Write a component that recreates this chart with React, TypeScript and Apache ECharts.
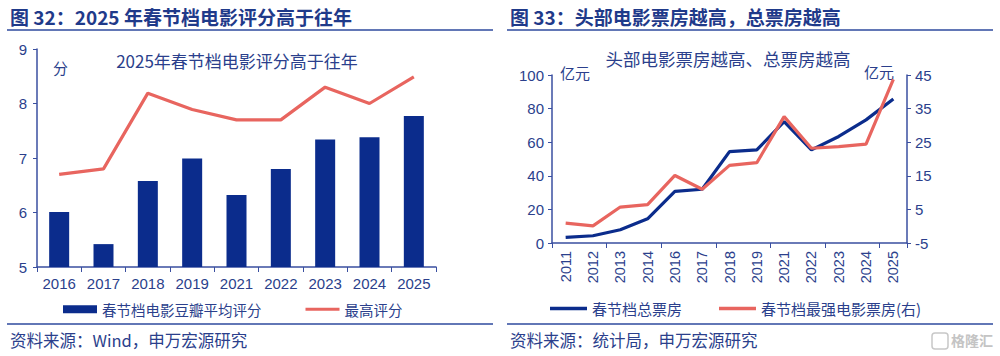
import React, { useEffect, useRef } from "react";
import * as echarts from "echarts";

const yearsL = ["2016", "2017", "2018", "2019", "2021", "2022", "2023", "2024", "2025"];
const avgScore = [6.01, 5.42, 6.58, 6.99, 6.32, 6.8, 7.34, 7.38, 7.77];
const maxScore = [6.7, 6.8, 8.19, 7.89, 7.7, 7.7, 8.3, 8.0, 8.49];

const yearsR = ["2011", "2012", "2013", "2014", "2016", "2017", "2018", "2019", "2021", "2022", "2023", "2024", "2025"];
const totalBox = [3.3, 4.3, 7.9, 14.4, 30.7, 32.0, 54.4, 55.4, 72.3, 55.4, 63.4, 73.3, 85.7];
const topFilmBox = [0.9, 0.1, 5.7, 6.4, 15.1, 11.0, 18.1, 18.9, 32.6, 23.2, 23.7, 24.4, 43.7];

const FONT = 'Arial, "Liberation Sans", "Noto Sans CJK SC", sans-serif';
const CJK = '"Noto Sans CJK SC", sans-serif';
const TXT = "#2B3F8C";
const AXIS = "#3A4FA0";
const NAVY = "#0B2C8C";
const RED = "#E8655F";
const LINE_ICON = "path://M0,0 L36,0 L36,3.2 L0,3.2 Z";

export default function App() {
  const ref = useRef<HTMLDivElement>(null);
  useEffect(() => {
    const chart = echarts.init(ref.current!, undefined, { renderer: "svg" });
    const axisLabel = { color: TXT, fontSize: 15, fontFamily: FONT };
    chart.setOption({
      animation: false,
      backgroundColor: "#fff",
      textStyle: { fontFamily: FONT },
      title: [
        { text: "2025年春节档电影评分高于往年", left: 232, top: 47, textAlign: "center", textStyle: { color: TXT, fontSize: 17, fontWeight: "normal", fontFamily: CJK } },
        { text: "头部电影票房越高、总票房越高", left: 723, top: 45, textAlign: "center", textStyle: { color: TXT, fontSize: 17.5, fontWeight: "normal", fontFamily: CJK } },
      ],
      legend: [
        {
          left: 58, top: 297, itemGap: 44, itemWidth: 34, itemHeight: 8,
          textStyle: { color: TXT, fontSize: 14.5, fontFamily: CJK },
          data: [
            { name: "春节档电影豆瓣平均评分", icon: "rect" },
            { name: "最高评分", icon: LINE_ICON },
          ],
        },
        {
          left: 545, top: 296, itemGap: 37, itemWidth: 37, itemHeight: 8,
          textStyle: { color: TXT, fontSize: 15, fontFamily: CJK },
          data: [
            { name: "春节档总票房", icon: LINE_ICON },
            { name: "春节档最强电影票房(右)", icon: LINE_ICON },
          ],
        },
      ],
      grid: [
        { left: 37, top: 49, width: 399, height: 218 },
        { left: 552, top: 75, width: 355, height: 168 },
      ],
      xAxis: [
        {
          type: "category", gridIndex: 0, data: yearsL, boundaryGap: true,
          axisLine: { lineStyle: { color: AXIS, width: 1.5 } },
          axisTick: { show: true, alignWithLabel: false, length: 5, lineStyle: { color: AXIS } },
          axisLabel: { ...axisLabel, margin: 9 },
        },
        {
          type: "category", gridIndex: 1, data: yearsR, boundaryGap: true,
          axisLine: { lineStyle: { color: AXIS, width: 1.5 } },
          axisTick: { show: true, alignWithLabel: false, interval: 1, length: 5, lineStyle: { color: AXIS } },
          axisLabel: { ...axisLabel, fontSize: 14.5, rotate: 90, margin: 8, interval: 0 },
        },
      ],
      yAxis: [
        {
          type: "value", gridIndex: 0, min: 5, max: 9, interval: 1,
          axisLine: { show: true, lineStyle: { color: AXIS, width: 1.5 } },
          axisTick: { show: true, length: 4, lineStyle: { color: AXIS } },
          splitLine: { show: false },
          axisLabel: { ...axisLabel, margin: 10 },
        },
        {
          type: "value", gridIndex: 1, min: 0, max: 100, interval: 20,
          axisLine: { show: true, lineStyle: { color: AXIS, width: 1.5 } },
          axisTick: { show: true, length: 4, lineStyle: { color: AXIS } },
          splitLine: { show: false },
          axisLabel: { ...axisLabel, margin: 8 },
        },
        {
          type: "value", gridIndex: 1, position: "right", min: -5, max: 45, interval: 10,
          axisLine: { show: true, lineStyle: { color: AXIS, width: 1.5 } },
          axisTick: { show: true, length: 4, lineStyle: { color: AXIS } },
          splitLine: { show: false },
          axisLabel: { ...axisLabel, margin: 8 },
        },
      ],
      series: [
        {
          name: "春节档电影豆瓣平均评分", type: "bar", xAxisIndex: 0, yAxisIndex: 0,
          data: avgScore, barWidth: 20, itemStyle: { color: NAVY },
        },
        {
          name: "最高评分", type: "line", xAxisIndex: 0, yAxisIndex: 0,
          data: maxScore, symbol: "none", lineStyle: { color: RED, width: 3.2 }, itemStyle: { color: RED },
        },
        {
          name: "春节档总票房", type: "line", xAxisIndex: 1, yAxisIndex: 1,
          data: totalBox, symbol: "none", lineStyle: { color: NAVY, width: 3.2 }, itemStyle: { color: NAVY },
        },
        {
          name: "春节档最强电影票房(右)", type: "line", xAxisIndex: 1, yAxisIndex: 2,
          data: topFilmBox, symbol: "none", lineStyle: { color: RED, width: 3.2 }, itemStyle: { color: RED },
        },
      ],
      graphic: [
        { type: "text", left: 10, top: 7, style: { text: "图 32：2025 年春节档电影评分高于往年", fill: "#1F3A8A", font: `bold 19px ${CJK}` } },
        { type: "text", left: 510, top: 7, style: { text: "图 33：头部电影票房越高，总票房越高", fill: "#1F3A8A", font: `bold 19px ${CJK}` } },
        { type: "line", shape: { x1: 7, y1: 30, x2: 493, y2: 30 }, style: { stroke: "#2E4A9E", lineWidth: 1.5 } },
        { type: "line", shape: { x1: 507, y1: 30, x2: 993, y2: 30 }, style: { stroke: "#2E4A9E", lineWidth: 1.5 } },
        { type: "line", shape: { x1: 7, y1: 324, x2: 493, y2: 324 }, style: { stroke: "#2E4A9E", lineWidth: 1.5 } },
        { type: "line", shape: { x1: 507, y1: 324, x2: 993, y2: 324 }, style: { stroke: "#2E4A9E", lineWidth: 1.5 } },
        { type: "text", left: 10, top: 332, style: { text: "资料来源：Wind，申万宏源研究", fill: TXT, font: `16.5px ${CJK}` } },
        { type: "text", left: 510, top: 332, style: { text: "资料来源：统计局，申万宏源研究", fill: TXT, font: `16.5px ${CJK}` } },
        { type: "text", left: 53, top: 60, style: { text: "分", fill: TXT, font: `15px ${CJK}` } },
        { type: "text", left: 560, top: 65, style: { text: "亿元", fill: TXT, font: `15px ${CJK}` } },
        { type: "text", left: 864, top: 64, style: { text: "亿元", fill: TXT, font: `15px ${CJK}` } },
        { type: "rect", shape: { x: 932, y: 333, width: 16, height: 16, r: 3 }, style: { fill: "none", stroke: "#c8c8c8", lineWidth: 1.5 } },
        { type: "text", left: 951, top: 333, style: { text: "格隆汇", fill: "#c4c4c4", font: `bold 14px ${CJK}` } },
      ],
    });
    return () => chart.dispose();
  }, []);
  return <div ref={ref} style={{ position: "absolute", left: 0, top: 0, width: 1000, height: 356 }} />;
}
